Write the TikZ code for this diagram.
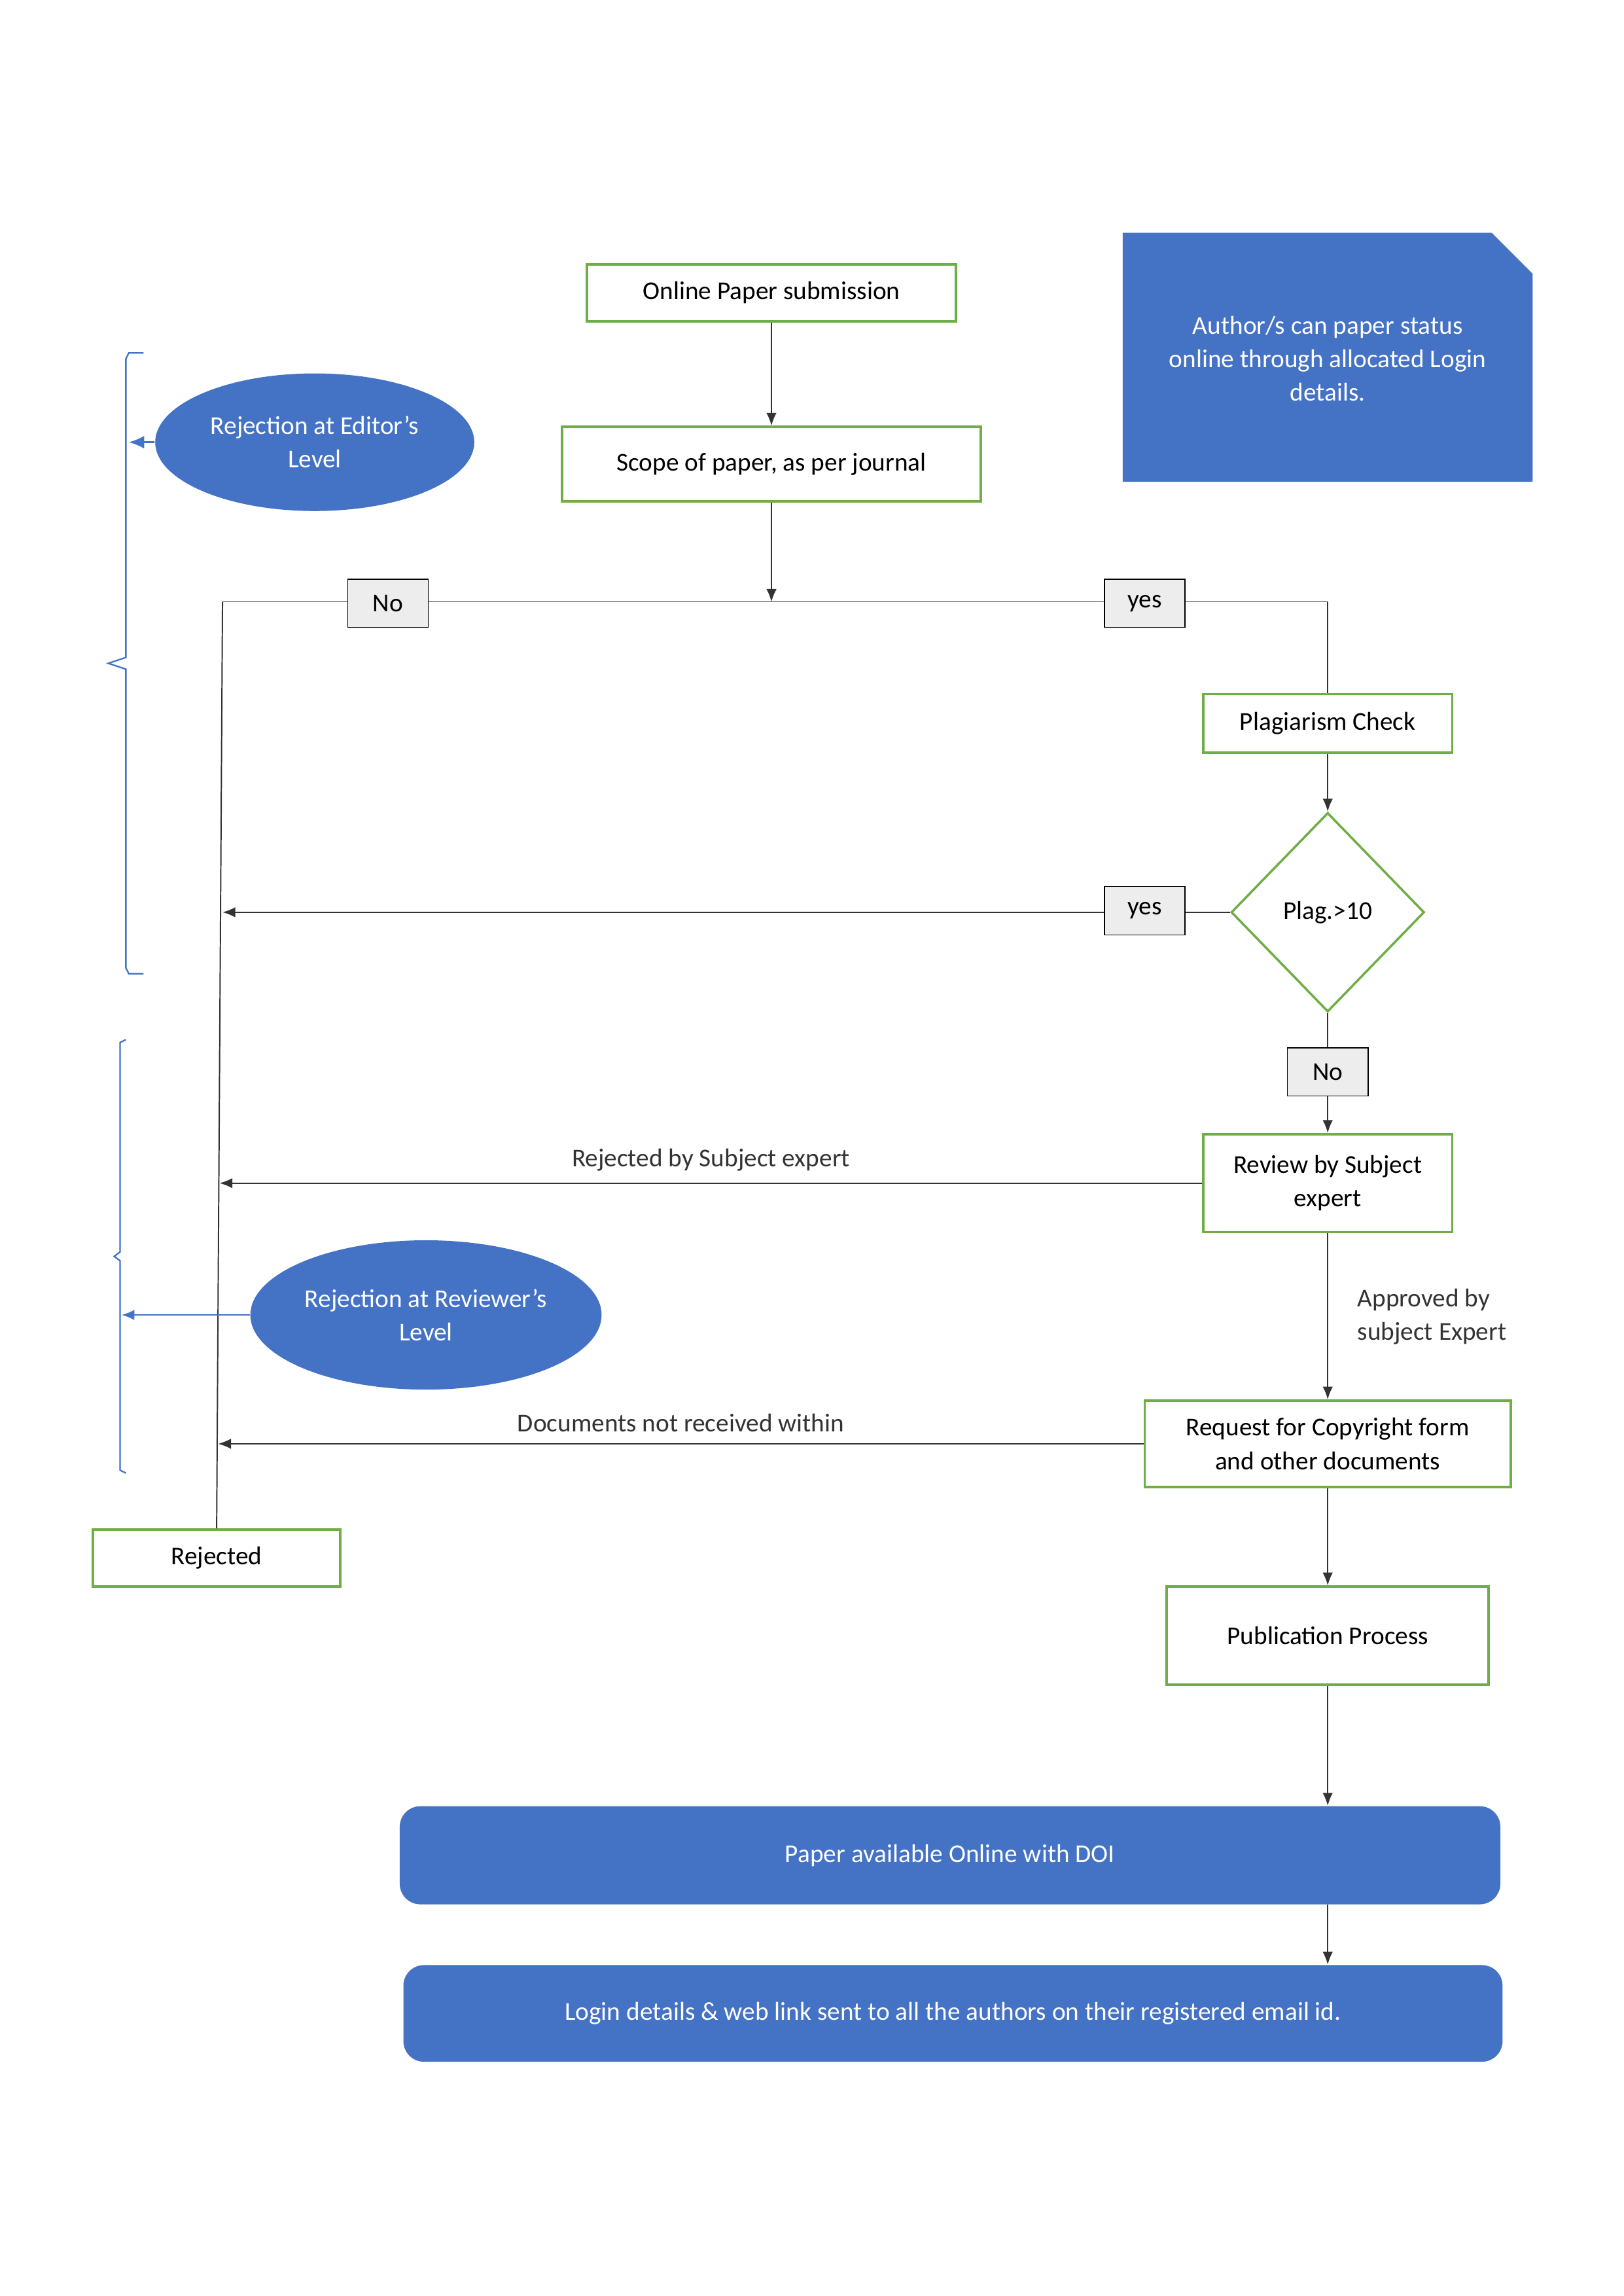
\documentclass[tikz,border=0pt]{standalone}
\usepackage{fontspec}
\setmainfont{Carlito}
\usetikzlibrary{shapes.geometric,arrows.meta}
\definecolor{bl}{HTML}{4472C4}
\definecolor{gr}{HTML}{70AD47}
\begin{document}
\begin{tikzpicture}[x=0.02cm,y=-0.02cm,font=\fontsize{10}{13}\selectfont,
 box/.style={draw=gr,line width=0.9pt,fill=white,align=center,inner sep=0pt},
 tag/.style={draw=black,fill=black!7,minimum width=1.1cm,minimum height=0.66cm,inner sep=0pt},
 blu/.style={fill=bl,text=white,align=center,inner sep=0pt},
 ar/.style={-{Latex[length=5pt,width=4pt]},line width=0.5pt,black!80},
 ln/.style={line width=0.5pt,black!80},
 bra/.style={draw=bl,line width=0.6pt}]
\useasboundingbox (0,0) rectangle (1109,1568);
% boxes
\node[box,minimum width=5.04cm,minimum height=0.78cm] (sub) at (527,200) {Online Paper submission};
\node[box,minimum width=5.72cm,minimum height=1.02cm] (scope) at (527,317) {Scope of paper, as per journal};
\node[box,minimum width=3.4cm,minimum height=0.8cm] (plag) at (907,494) {Plagiarism Check};
\node[draw=gr,line width=0.9pt,diamond,aspect=0.97,minimum width=2.64cm,minimum height=2.72cm,inner sep=0pt] (dia) at (907,623) {Plag.>10};
\node[box,minimum width=3.4cm,minimum height=1.34cm] (rev) at (907,808) {Review by Subject\\expert};
\node[box,minimum width=5cm,minimum height=1.18cm] (copy) at (907,986) {Request for Copyright form\\and other documents};
\node[box,minimum width=4.4cm,minimum height=1.34cm] (pub) at (907,1117) {Publication Process};
\node[box,minimum width=3.38cm,minimum height=0.78cm] (rej) at (148,1064) {Rejected};
\node[blu,rounded corners=8pt,minimum width=15.04cm,minimum height=1.34cm] (doi) at (649,1267) {Paper available Online with DOI};
\node[blu,rounded corners=8pt,minimum width=15.02cm,minimum height=1.32cm] (login) at (651,1375) {Login details \& web link sent to all the authors on their registered email id.};
% note
\fill[bl] (767,159) -- (1019,159) -- (1047,187) -- (1047,329) -- (767,329) -- cycle;
\node[text=white,align=center] (note) at (907,245) {Author/s can paper status\\online through allocated Login\\details.};
% ellipses
\node[blu,ellipse,minimum width=4.36cm,minimum height=1.88cm] (ed) at (215,302) {Rejection at Editor’s\\Level};
\node[blu,ellipse,minimum width=4.8cm,minimum height=2.04cm] (rv) at (291,898) {Rejection at Reviewer’s\\Level};
% coordinates
\coordinate (j) at (527,411);
\coordinate (jl) at (152,411);
\coordinate (jr) at (907,411);
\coordinate (a1) at (152,623);
\coordinate (a2) at (150,808);
\coordinate (a3) at (149,986);
\coordinate (b1) at (88,302);
\coordinate (b2) at (83,898);
% connectors
\draw[ar] (sub) -- (sub|-scope.north);
\draw[ar] (scope) -- (j);
\draw[ln] (jl) -- (jr) -- (plag.north);
\draw[ln] (jl) -- (rej.north);
\node[tag] (no1) at (265,412) {No};
\node[tag] (yes1) at (782,412) {yes};
\draw[ar] (plag) -- (dia.north);
\draw[ar] (dia.west) -- (a1);
\node[tag] (yes2) at (782,622) {yes};
\draw[ar] (dia.south) -- (rev.north);
\node[tag] (no2) at (907,732) {No};
\draw[ar] (rev.west) -- node[above=1pt] {Rejected by Subject expert} (a2);
\draw[ar] (rev) -- node[right=8pt,align=left] {Approved by\\subject Expert} (copy);
\draw[ar] (copy.west) -- node[above=1pt] {Documents not received within} (a3);
\draw[ar] (copy) -- (pub);
\draw[ar] (pub) -- (pub|-doi.north);
\draw[ar] (doi.south-|pub) -- (pub|-login.north);
% braces
\draw[bra] (98,241) -- (88,241) -- (86,245) -- (86,449) -- (74,453) -- (86,457) -- (86,661) -- (88,665) -- (98,665);
\draw[bra] (86,710) -- (82,712) -- (82,855) -- (78,858) -- (82,861) -- (82,1004) -- (86,1006);
\draw[bl,line width=0.6pt,-{Latex[length=6pt,width=5pt]}] (ed.west) -- (b1);
\draw[bl,line width=0.6pt,-{Latex[length=5pt,width=4pt]}] (rv.west) -- (b2);
\end{tikzpicture}
\end{document}
